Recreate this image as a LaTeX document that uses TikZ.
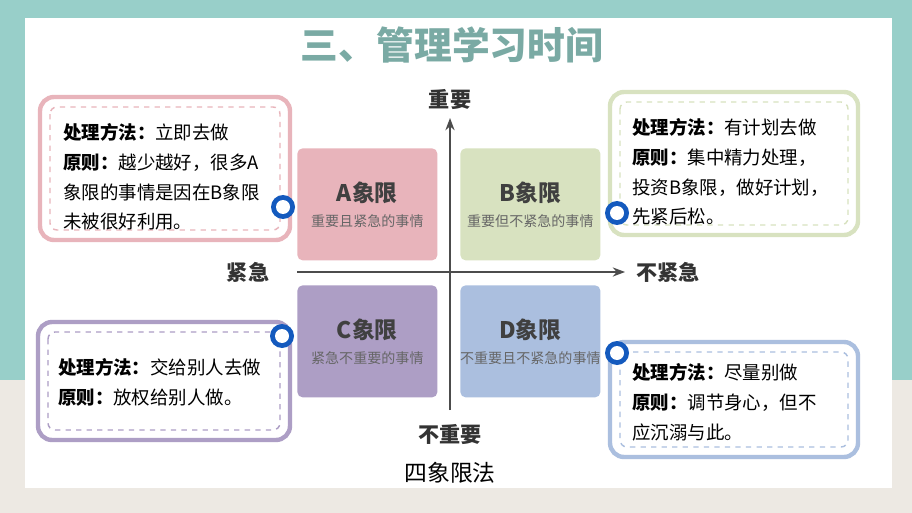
\documentclass[tikz,border=0pt]{standalone}
\usepackage{fontspec}
\setmainfont{Noto Sans CJK SC}
\usetikzlibrary{arrows.meta}
\definecolor{teal1}{RGB}{152,207,201}
\definecolor{sand}{RGB}{237,233,227}
\definecolor{titlec}{RGB}{122,170,164}
\definecolor{qa}{RGB}{232,180,187}
\definecolor{qb}{RGB}{216,226,192}
\definecolor{qc}{RGB}{173,158,197}
\definecolor{qd}{RGB}{171,191,223}
\definecolor{pinc}{RGB}{20,90,190}
\tikzset{
  quad/.style={rounded corners=3pt, minimum width=140*0.02cm, minimum height=112*0.02cm, anchor=north west, inner sep=0pt},
  note/.style={line width=2.5pt, rounded corners=8pt},
  inner/.style={dashed, thick, rounded corners=4pt},
  notetext/.style={anchor=north west, align=left, font=\fontsize{10.5}{17}\selectfont, text=black},
  axislabel/.style={font=\bfseries\fontsize{12}{14}\selectfont, text=black!80},
}
\begin{document}
\begin{tikzpicture}[x=0.02cm, y=-0.02cm]
        % Background
        \useasboundingbox (0,0) rectangle (912,513);
        \fill[sand] (0,0) rectangle (912,513);
        \fill[teal1] (0,0) rectangle (912,380);
        \fill[white] (25,18) rectangle (892,488);

        % Title
        \node[font=\bfseries\fontsize{21.5}{24}\selectfont, text=titlec] (title) at (452,45) {三、管理学习时间};

        % Quadrant boxes
        \node[quad, fill=qa] (qA) at (297,148) {};
        \node[quad, fill=qb] (qB) at (460,148) {};
        \node[quad, fill=qc] (qC) at (297,285) {};
        \node[quad, fill=qd] (qD) at (460,285) {};
        \foreach \q/\t/\s in {A/A象限/重要且紧急的事情, B/B象限/重要但不紧急的事情, C/C象限/紧急不重要的事情, D/D象限/不重要且不紧急的事情} {
            \node[font=\bfseries\fontsize{13}{15}\selectfont, text=black!75] at ([yshift=0.24cm]q\q.center) {\t};
            \node[font=\fontsize{8}{10}\selectfont, text=black!60] at ([yshift=-0.34cm]q\q.center) {\s};
        }

        % Axes
        \coordinate (vbot) at (450,410);
        \coordinate (vtop) at (450,118);
        \coordinate (hleft) at (297,272);
        \coordinate (hright) at (625,272);
        \draw[-{Stealth[length=7pt]}, thick, black!70] (vbot) -- (vtop);
        \draw[-{Stealth[length=7pt]}, thick, black!70] (hleft) -- (hright);
        \node[axislabel] (imp) at (450,100) {重要};
        \node[axislabel] (nimp) at (450,434) {不重要};
        \node[axislabel] (urg) at (248,272) {紧急};
        \node[axislabel] (nurg) at (668,272) {不紧急};

        % Note boxes
        \draw[note, draw=qa] (40,97) rectangle (290,240);
        \draw[inner, draw=qa] (50,107) rectangle (280,230);
        \draw[note, draw=qb] (610,92) rectangle (858,235);
        \draw[inner, draw=qb] (620,102) rectangle (848,225);
        \draw[note, draw=qc] (38,322) rectangle (290,440);
        \draw[inner, draw=qc] (48,332) rectangle (280,430);
        \draw[note, draw=qd] (610,342) rectangle (858,457);
        \draw[inner, draw=qd] (620,352) rectangle (848,447);

        \node[notetext] (tA) at (57,117) {\textbf{处理方法：}立即去做\\\textbf{原则：}越少越好，很多A\\象限的事情是因在B象限\\未被很好利用。};
        \node[notetext] (tB) at (626,112) {\textbf{处理方法：}有计划去做\\\textbf{原则：}集中精力处理，\\投资B象限，做好计划，\\先紧后松。};
        \node[notetext] (tC) at (52,352) {\textbf{处理方法：}交给别人去做\\\textbf{原则：}放权给别人做。};
        \node[notetext] (tD) at (626,357) {\textbf{处理方法：}尽量别做\\\textbf{原则：}调节身心，但不\\应沉溺与此。};

        % Pins
        \foreach \p in {(283,207), (617,213), (282,336), (617,353)} {
            \fill[pinc] \p circle (12);
            \fill[white] \p circle (7);
        }

        % Caption
        \node[font=\fontsize{13}{15}\selectfont] (cap) at (450,473) {四象限法};
    \end{tikzpicture}
\end{document}
